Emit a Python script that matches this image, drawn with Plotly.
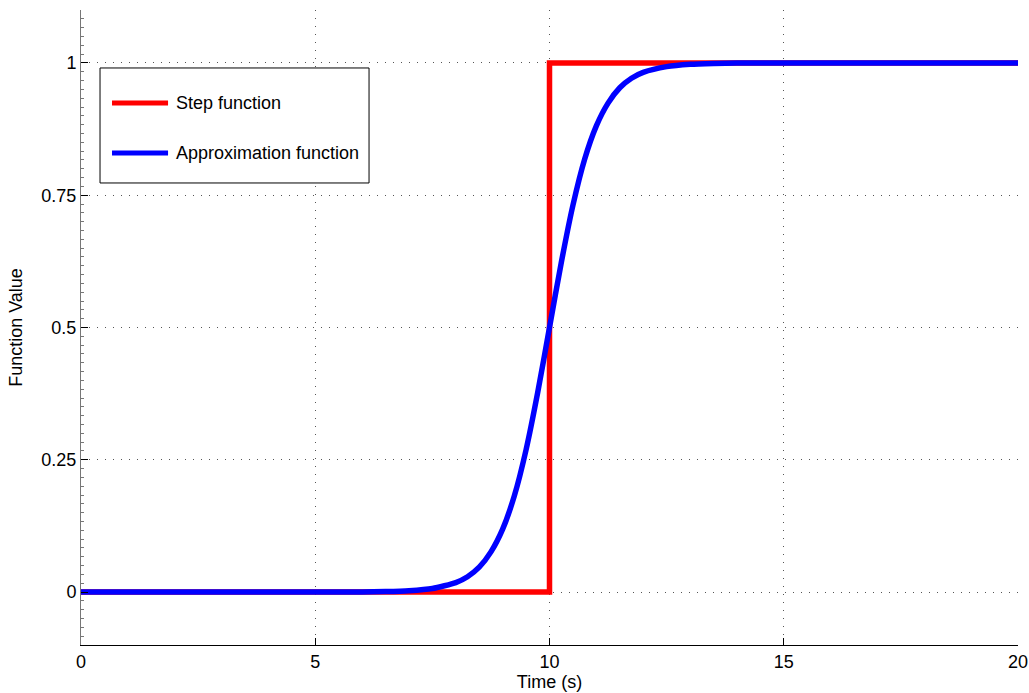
import plotly.graph_objects as go

# Unit step at t = 10
step_t = [0, 10, 10, 20]
step_y = [0, 0, 1, 1]

# Smooth approximation of the step (sampled values)
approx_t = [0, 1, 2, 3, 4, 5, 6, 6.5, 7, 7.5, 8, 8.25, 8.5, 8.75, 9, 9.25, 9.5,
            9.75, 10, 10.25, 10.5, 10.75, 11, 11.25, 11.5, 11.75, 12, 12.5, 13,
            13.5, 14, 15, 16, 17, 18, 19, 20]
approx_y = [0, 0, 0, 0, 0, 0, 0.0003, 0.0009, 0.0025, 0.0067, 0.018, 0.029,
            0.047, 0.076, 0.119, 0.182, 0.269, 0.378, 0.5, 0.622, 0.731, 0.818,
            0.881, 0.924, 0.953, 0.971, 0.982, 0.993, 0.9975, 0.9991, 0.9997,
            1, 1, 1, 1, 1, 1]

series_names = ["Step function", "Approximation function"]
series_colors = ["#ff0000", "#0000ff"]

x_ticks = [0, 5, 10, 15, 20]
y_ticks = [0, 0.25, 0.5, 0.75, 1]
y_tick_text = ["0", "0.25", "0.5", "0.75", "1"]

FONT = "Liberation Sans, Arial, Helvetica, sans-serif"
FS = 18
TITLE_FS = 18
LW = 5.5
KEY_LW = 5

fig = go.Figure()
fig.add_trace(go.Scatter(
    x=step_t, y=step_y, mode="lines", name=series_names[0],
    line=dict(color=series_colors[0], width=LW), showlegend=False,
))
fig.add_trace(go.Scatter(
    x=approx_t, y=approx_y, mode="lines", name=series_names[1],
    line=dict(color=series_colors[1], width=LW, shape="spline", smoothing=0.6),
    showlegend=False,
))

# Boxed key in the upper-left corner (paper coordinates of the plot area)
box_x0, box_x1, box_y0, box_y1 = 0.0203, 0.3074, 0.7276, 0.9087
key_x0, key_x1, text_x = 0.0331, 0.0929, 0.0993
key_rows = [0.8535, 0.7748]

shapes = [dict(type="rect", xref="paper", yref="paper",
               x0=box_x0, x1=box_x1, y0=box_y0, y1=box_y1,
               line=dict(color="black", width=1), fillcolor="white", layer="above")]
annotations = []
for name, color, yk in zip(series_names, series_colors, key_rows):
    shapes.append(dict(type="line", xref="paper", yref="paper",
                       x0=key_x0, x1=key_x1, y0=yk, y1=yk,
                       line=dict(color=color, width=KEY_LW), layer="above"))
    annotations.append(dict(xref="paper", yref="paper", x=text_x, y=yk,
                            text=name, showarrow=False, xanchor="left",
                            yanchor="middle",
                            font=dict(family=FONT, size=FS, color="black")))

grid = dict(showgrid=True, gridcolor="#555555", gridwidth=1, griddash="1px,7px")

fig.update_layout(
    width=1029, height=693,
    margin=dict(l=81, r=11, t=10, b=48),
    paper_bgcolor="white", plot_bgcolor="white",
    font=dict(family=FONT, size=FS, color="black"),
    showlegend=False,
    shapes=shapes,
    annotations=annotations,
    xaxis=dict(
        range=[0, 20], tickvals=x_ticks, ticks="inside", ticklen=7,
        tickcolor="black", showline=True, linecolor="black", linewidth=1,
        zeroline=False, automargin=False,
        title=dict(text="Time (s)", standoff=0,
                   font=dict(family=FONT, size=TITLE_FS, color="black")),
        **grid,
    ),
    yaxis=dict(
        range=[-0.1, 1.1], tickvals=y_ticks, ticktext=y_tick_text,
        ticks="inside", ticklen=7, tickcolor="black", showline=True,
        linecolor="#777777", linewidth=1, zeroline=False, automargin=False,
        title=dict(text="Function Value", standoff=14,
                   font=dict(family=FONT, size=TITLE_FS, color="black")),
        minor=dict(dtick=0.25 / 15, tick0=0, ticks="inside", ticklen=3,
                   tickcolor="#777777", showgrid=False),
        **grid,
    ),
)

fig.write_html("out.html")
